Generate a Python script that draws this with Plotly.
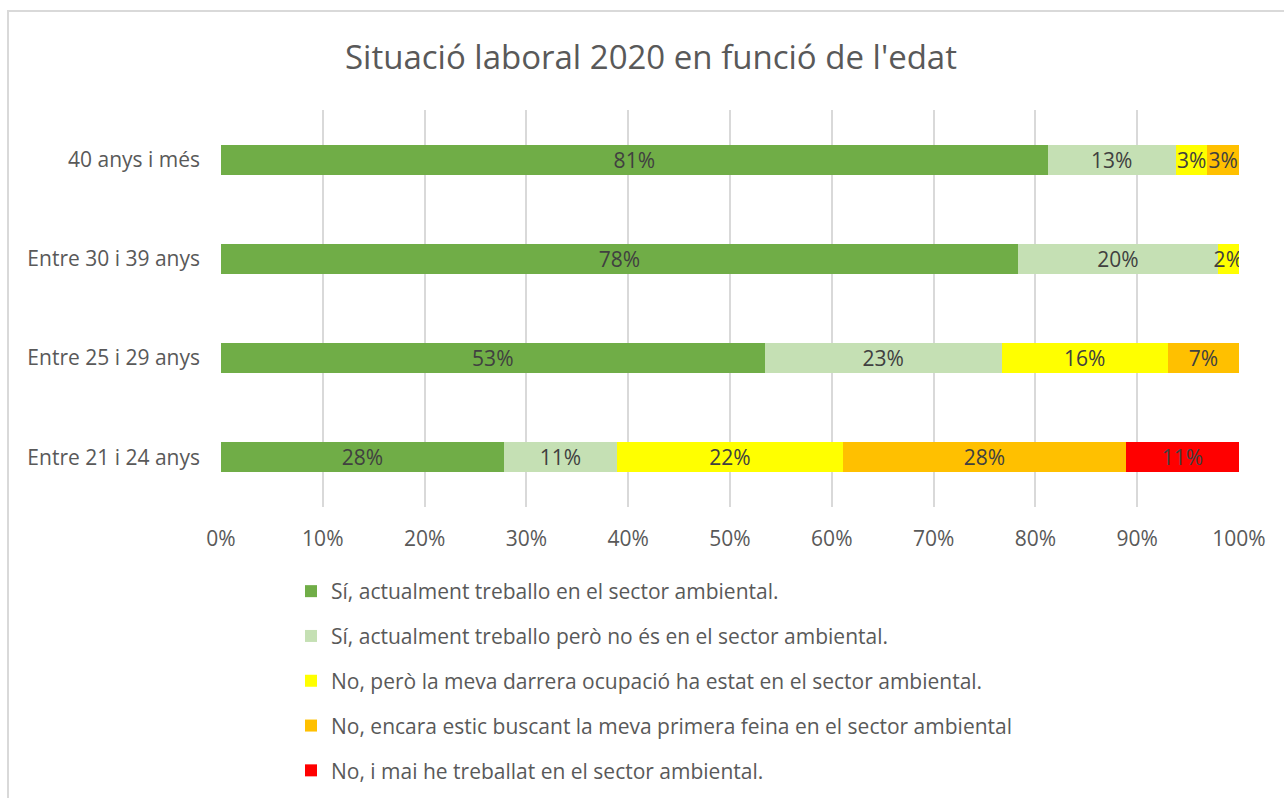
import plotly.graph_objects as go

categories = ["Entre 21 i 24 anys", "Entre 25 i 29 anys", "Entre 30 i 39 anys", "40 anys i més"]
series_names = [
    "Sí, actualment treballo en el sector ambiental.",
    "Sí, actualment treballo però no és en el sector ambiental.",
    "No, però la meva darrera ocupació ha estat en el sector ambiental.",
    "No, encara estic buscant la meva primera feina en el sector ambiental",
    "No, i mai he treballat en el sector ambiental.",
]
# percentages per category (order as categories)
si_sector = [27.8, 53.4, 78.3, 81.2]
si_altre = [11.1, 23.3, 19.6, 12.6]
no_darrera = [22.2, 16.3, 2.1, 3.1]
no_buscant = [27.8, 7.0, 0.0, 3.1]
no_mai = [11.1, 0.0, 0.0, 0.0]
series_values = [si_sector, si_altre, no_darrera, no_buscant, no_mai]
colors = ["#70AD47", "#C5E0B4", "#FFFF00", "#FFC000", "#FF0000"]
tick_vals = [0, 10, 20, 30, 40, 50, 60, 70, 80, 90, 100]
tick_text = [f"{v}%" for v in tick_vals]

FONT = "Open Sans"
FS = 21
fig = go.Figure()
for i, (name, vals, col) in enumerate(zip(series_names, series_values, colors)):
    texts = [f"{round(v)}%" if v > 0 else "" for v in vals]
    fig.add_trace(go.Bar(
        y=categories, x=vals, name=name, orientation="h",
        marker=dict(color=col, line=dict(width=0)),
        text=texts, texttemplate="%{text}", textposition="inside",
        insidetextanchor="middle", textangle=0, constraintext="none",
        textfont=dict(family=FONT, size=FS, color="#404040"),
        legendgroup=f"g{i}", hoverinfo="x+name",
    ))

L, R, T, B = 221, 45, 110, 291
W, H = 1284, 798
pw, ph = W - L - R, H - T - B

def px_x(x):
    return (x - L) / pw

def px_y(y):
    return (H - B - y) / ph

fig.update_layout(
    width=W, height=H,
    barmode="stack", bargap=0.70,
    paper_bgcolor="white", plot_bgcolor="white",
    margin=dict(l=L, r=R, t=T, b=B, autoexpand=False),
    title=dict(text="Situació laboral 2020 en funció de l'edat", x=0.507, xanchor="center",
               y=1 - 57 / H, yanchor="middle",
               font=dict(family=FONT, size=33, color="#595959")),
    xaxis=dict(range=[0, 100], tickvals=tick_vals, ticktext=tick_text,
               showgrid=True, gridcolor="#D9D9D9", gridwidth=2,
               zeroline=False, showline=False, ticks="", ticklabelstandoff=17,
               tickfont=dict(family=FONT, size=FS, color="#595959"), fixedrange=True),
    yaxis=dict(showgrid=False, zeroline=False, showline=False, ticks="",
               ticklabelstandoff=20,
               tickfont=dict(family=FONT, size=FS, color="#595959"), fixedrange=True),
    legend=dict(orientation="v", x=px_x(291), xanchor="left", y=px_y(571), yanchor="top",
                traceorder="grouped", tracegroupgap=14.5,
                font=dict(family=FONT, size=FS, color="#595959"),
                bgcolor="rgba(0,0,0,0)"),
    uniformtext=dict(minsize=FS, mode="show"),
    shapes=[dict(type="rect", xref="paper", yref="paper",
                 x0=px_x(8), x1=px_x(1300), y0=px_y(820), y1=px_y(11),
                 line=dict(color="#D9D9D9", width=2), fillcolor="rgba(0,0,0,0)", layer="below")],
)

fig.write_html("out.html", config={"displayModeBar": False},
               post_script="document.body.style.margin='0';")
